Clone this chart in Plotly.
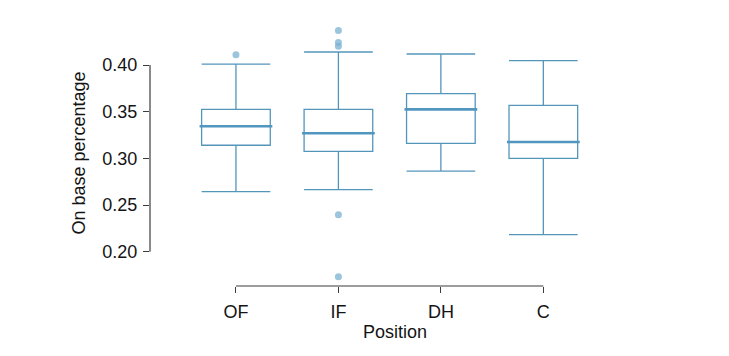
import plotly.graph_objects as go

positions = ["OF", "IF", "DH", "C"]
lower_whisker = [0.2643, 0.2664, 0.2864, 0.2182]
q1 = [0.3140, 0.3075, 0.3161, 0.3000]
median = [0.3343, 0.3268, 0.3525, 0.3175]
q3 = [0.3525, 0.3525, 0.3693, 0.3568]
upper_whisker = [0.4010, 0.4139, 0.4118, 0.4046]
outlier_pos = ["OF", "IF", "IF", "IF", "IF", "IF"]
outlier_val = [0.4110, 0.4370, 0.4240, 0.4200, 0.2396, 0.1732]

y_ticks = [0.20, 0.25, 0.30, 0.35, 0.40]

idx = {p: i for i, p in enumerate(positions)}
xs = list(range(len(positions)))
box_w = 0.67

line_col = "rgb(84,150,186)"
fig = go.Figure()
fig.add_trace(go.Box(
    x=xs, q1=q1, median=median, q3=q3,
    lowerfence=lower_whisker, upperfence=upper_whisker,
    width=box_w, whiskerwidth=1,
    fillcolor="rgba(0,0,0,0)",
    line=dict(color=line_col, width=1.3),
    boxpoints=False, showlegend=False, hoverinfo="skip",
))
# thicker median lines
mx, my = [], []
for i, m in enumerate(median):
    mx += [i - box_w / 2 - 0.02, i + box_w / 2 + 0.02, None]
    my += [m, m, None]
fig.add_trace(go.Scatter(x=mx, y=my, mode="lines",
                         line=dict(color="rgb(80,150,190)", width=2.6),
                         showlegend=False, hoverinfo="skip"))
fig.add_trace(go.Scatter(
    x=[idx[p] for p in outlier_pos], y=outlier_val, mode="markers",
    marker=dict(color="rgba(120,178,210,0.75)", size=7),
    showlegend=False, hoverinfo="skip"))

axis_col = "rgb(60,60,60)"
fig.add_shape(type="line", xref="paper", yref="y", x0=0, x1=0,
              y0=y_ticks[0], y1=y_ticks[-1], line=dict(color=axis_col, width=1.2))
fig.add_shape(type="line", xref="x", yref="paper", x0=0, x1=len(positions) - 1,
              y0=0, y1=0, line=dict(color=axis_col, width=1.2))

font = dict(family="Liberation Sans, Arial, sans-serif", size=18, color="rgb(20,20,20)")
fig.update_layout(
    width=721, height=348,
    margin=dict(l=142, r=89, t=12, b=70),
    plot_bgcolor="white", paper_bgcolor="white",
    font=font,
    xaxis=dict(range=[-0.8388, 3.9433], tickvals=xs, ticktext=positions,
               showgrid=False, zeroline=False, showline=False,
               ticks="outside", ticklen=6, tickcolor=axis_col, tickwidth=1.2,
               tickfont=font, ticklabelstandoff=3,
               title=dict(text="Position", standoff=4, font=font)),
    yaxis=dict(range=[0.16323, 0.44821], tickvals=y_ticks,
               ticktext=[f"{v:.2f}" for v in y_ticks],
               showgrid=False, zeroline=False, showline=False,
               ticks="outside", ticklen=6, tickcolor=axis_col, tickwidth=1.2,
               tickfont=font, ticklabelstandoff=2,
               title=dict(text="On base percentage", standoff=12, font=font)),
)
fig.write_html("out.html")
